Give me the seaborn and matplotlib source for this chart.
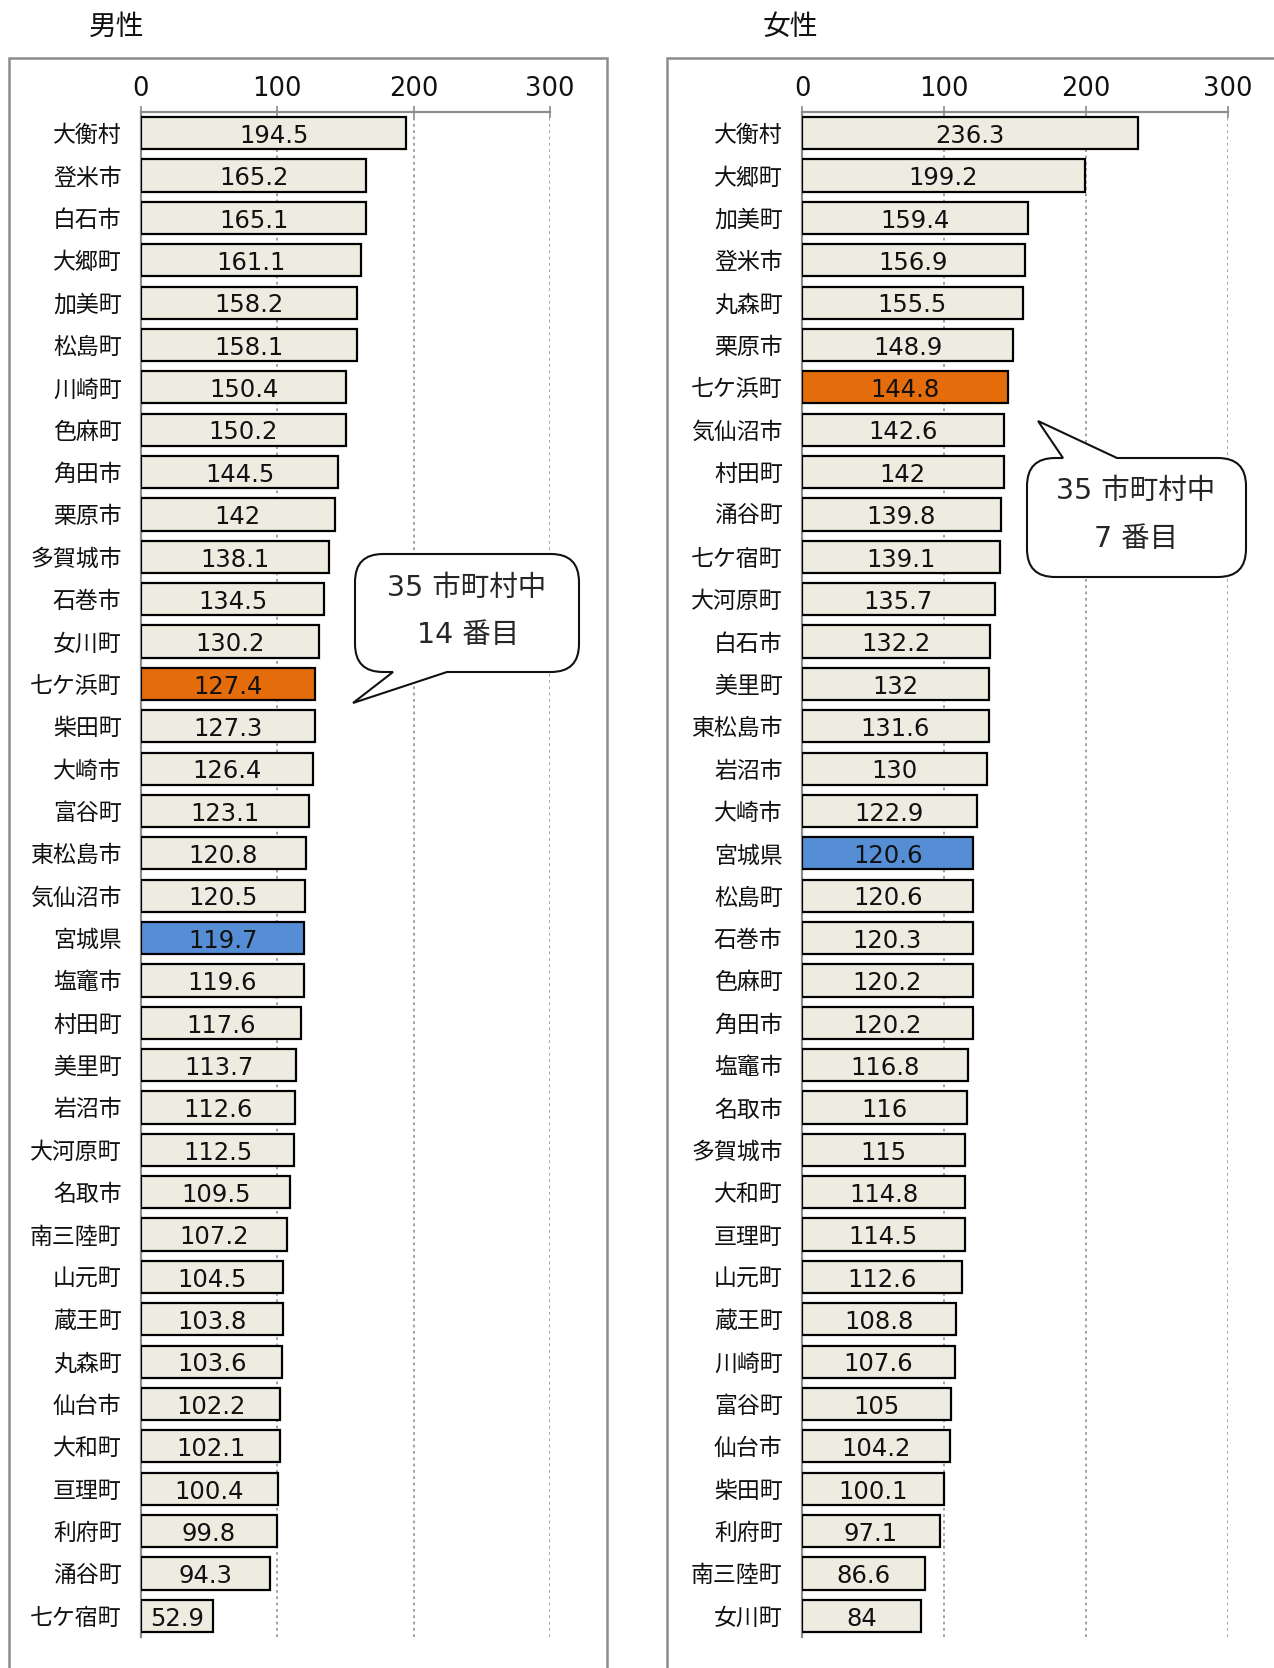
import numpy as np
import pandas as pd
import matplotlib.pyplot as plt
import seaborn as sns
from matplotlib.path import Path
from matplotlib.patches import PathPatch, Rectangle

# male data
male_names = ["大衡村", "登米市", "白石市", "大郷町", "加美町", "松島町", "川崎町", "色麻町",
              "角田市", "栗原市", "多賀城市", "石巻市", "女川町", "七ケ浜町", "柴田町", "大崎市",
              "富谷町", "東松島市", "気仙沼市", "宮城県", "塩竈市", "村田町", "美里町", "岩沼市",
              "大河原町", "名取市", "南三陸町", "山元町", "蔵王町", "丸森町", "仙台市", "大和町",
              "亘理町", "利府町", "涌谷町", "七ケ宿町"]
male_vals = [194.5, 165.2, 165.1, 161.1, 158.2, 158.1, 150.4, 150.2,
             144.5, 142, 138.1, 134.5, 130.2, 127.4, 127.3, 126.4,
             123.1, 120.8, 120.5, 119.7, 119.6, 117.6, 113.7, 112.6,
             112.5, 109.5, 107.2, 104.5, 103.8, 103.6, 102.2, 102.1,
             100.4, 99.8, 94.3, 52.9]

# female data
female_names = ["大衡村", "大郷町", "加美町", "登米市", "丸森町", "栗原市", "七ケ浜町", "気仙沼市",
                "村田町", "涌谷町", "七ケ宿町", "大河原町", "白石市", "美里町", "東松島市", "岩沼市",
                "大崎市", "宮城県", "松島町", "石巻市", "色麻町", "角田市", "塩竈市", "名取市",
                "多賀城市", "大和町", "亘理町", "山元町", "蔵王町", "川崎町", "富谷町", "仙台市",
                "柴田町", "利府町", "南三陸町", "女川町"]
female_vals = [236.3, 199.2, 159.4, 156.9, 155.5, 148.9, 144.8, 142.6,
               142, 139.8, 139.1, 135.7, 132.2, 132, 131.6, 130,
               122.9, 120.6, 120.6, 120.3, 120.2, 120.2, 116.8, 116,
               115, 114.8, 114.5, 112.6, 108.8, 107.6, 105, 104.2,
               100.1, 97.1, 86.6, 84]

x_ticks = [0, 100, 200, 300]
base_color = "#EEECE1"
home_color = "#E46C0A"   # 七ケ浜町
pref_color = "#558ED5"   # 宮城県

sns.set_style("white")
plt.rcParams['font.family'] = ['Noto Sans CJK JP', 'DejaVu Sans']
num_font = ['DejaVu Sans', 'Noto Sans CJK JP']

W, H = 1274, 1668
fig = plt.figure(figsize=(W / 100, H / 100), dpi=100)


def fx(px):
    return px / W


def fy(py):
    return 1 - py / H


def draw_panel(left, right, names, vals):
    ax = fig.add_axes([fx(left), fy(1637), fx(right) - fx(left), fy(112) - fy(1637)])
    df = pd.DataFrame({"name": names, "value": vals})
    pal = {n: (home_color if n == "七ケ浜町" else pref_color if n == "宮城県" else base_color)
           for n in names}
    sns.barplot(data=df, x="value", y="name", hue="name", palette=pal, legend=False,
                orient="h", width=0.76, edgecolor="black", linewidth=1.6, saturation=1,
                ax=ax, zorder=3)
    # one container per hue level
    for cont, v in zip(ax.containers, vals):
        anns = ax.bar_label(cont, labels=[f"{v:g}"], label_type="center",
                            fontsize=17.5, color="#111111", family=num_font)
        for a in anns:
            a.set_position((0, -2))
    ax.set_xlim(0, 300)
    ax.set_ylim(len(names) - 0.5, -0.5)
    ax.xaxis.tick_top()
    ax.set_xticks(x_ticks)
    ax.set_xticklabels([str(t) for t in x_ticks], family=num_font)
    ax.tick_params(axis="x", direction="inout", length=8, width=1.2, color="#8c8c8c",
                   labelsize=18.5, pad=3, labelcolor="#111111")
    ax.set_yticks(np.arange(len(names)))
    ax.set_yticks(np.arange(len(names) + 1) - 0.5, minor=True)
    ax.tick_params(axis="y", which="major", length=0, labelsize=16.5, pad=14,
                   labelcolor="#111111")
    ax.tick_params(axis="y", which="minor", direction="out", length=7, width=1.5,
                   color="#8c8c8c")
    ax.set_xlabel("")
    ax.set_ylabel("")
    for t in [100, 200, 300]:
        ax.axvline(t, color="#9a9a9a", linestyle=(0, (1.5, 2)), linewidth=1.3, zorder=1)
    for s in ["right", "bottom"]:
        ax.spines[s].set_visible(False)
    for s in ["left", "top"]:
        ax.spines[s].set_color("#8c8c8c")
        ax.spines[s].set_linewidth(1.6)
    ax.patch.set_alpha(0)
    return ax


# panel borders
fig.patches.append(Rectangle((fx(9), fy(1700)), fx(607) - fx(9), fy(58) - fy(1700),
                             transform=fig.transFigure, fill=False,
                             edgecolor="#8c8c8c", linewidth=1.8))
fig.patches.append(Rectangle((fx(667), fy(1700)), fx(1320) - fx(667), fy(58) - fy(1700),
                             transform=fig.transFigure, fill=False,
                             edgecolor="#8c8c8c", linewidth=1.8))

draw_panel(141, 550, male_names, male_vals)
draw_panel(802, 1228, female_names, female_vals)

fig.text(fx(117), fy(27), "男性", fontsize=20, ha="center", va="center", color="#111111")
fig.text(fx(790), fy(27), "女性", fontsize=20, ha="center", va="center", color="#111111")


def bubble(x0, y0, x1, y1, r, side, tb0, tb1, tip):
    pts = [(x0 + r, y0)]
    codes = [Path.MOVETO]
    if side == "top":
        pts += [(tb0, y0), tip, (tb1, y0)]
        codes += [Path.LINETO] * 3
    pts += [(x1 - r, y0), (x1, y0), (x1, y0 + r), (x1, y1 - r), (x1, y1), (x1 - r, y1)]
    codes += [Path.LINETO, Path.CURVE3, Path.CURVE3, Path.LINETO, Path.CURVE3, Path.CURVE3]
    if side == "bottom":
        pts += [(tb1, y1), tip, (tb0, y1)]
        codes += [Path.LINETO] * 3
    pts += [(x0 + r, y1), (x0, y1), (x0, y1 - r), (x0, y0 + r), (x0, y0), (x0 + r, y0), (x0 + r, y0)]
    codes += [Path.LINETO, Path.CURVE3, Path.CURVE3, Path.LINETO, Path.CURVE3, Path.CURVE3,
              Path.CLOSEPOLY]
    verts = [(fx(a), fy(b)) for a, b in pts]
    fig.patches.append(PathPatch(Path(verts, codes), transform=fig.transFigure,
                                 facecolor="white", edgecolor="#111111", linewidth=1.5,
                                 zorder=10))


bubble(355, 554, 579, 672, 28, "bottom", 393, 447, (353, 703))
fig.text(fx(467), fy(588), "35 市町村中", fontsize=20.5, ha="center", va="center",
         family=num_font, zorder=11)
fig.text(fx(468), fy(635), "14 番目", fontsize=20.5, ha="center", va="center",
         family=num_font, zorder=11)

bubble(1027, 458, 1246, 577, 28, "top", 1063, 1117, (1038, 421))
fig.text(fx(1136), fy(491), "35 市町村中", fontsize=20.5, ha="center", va="center",
         family=num_font, zorder=11)
fig.text(fx(1136), fy(539), "7 番目", fontsize=20.5, ha="center", va="center",
         family=num_font, zorder=11)

plt.savefig("out.png", dpi=100)
